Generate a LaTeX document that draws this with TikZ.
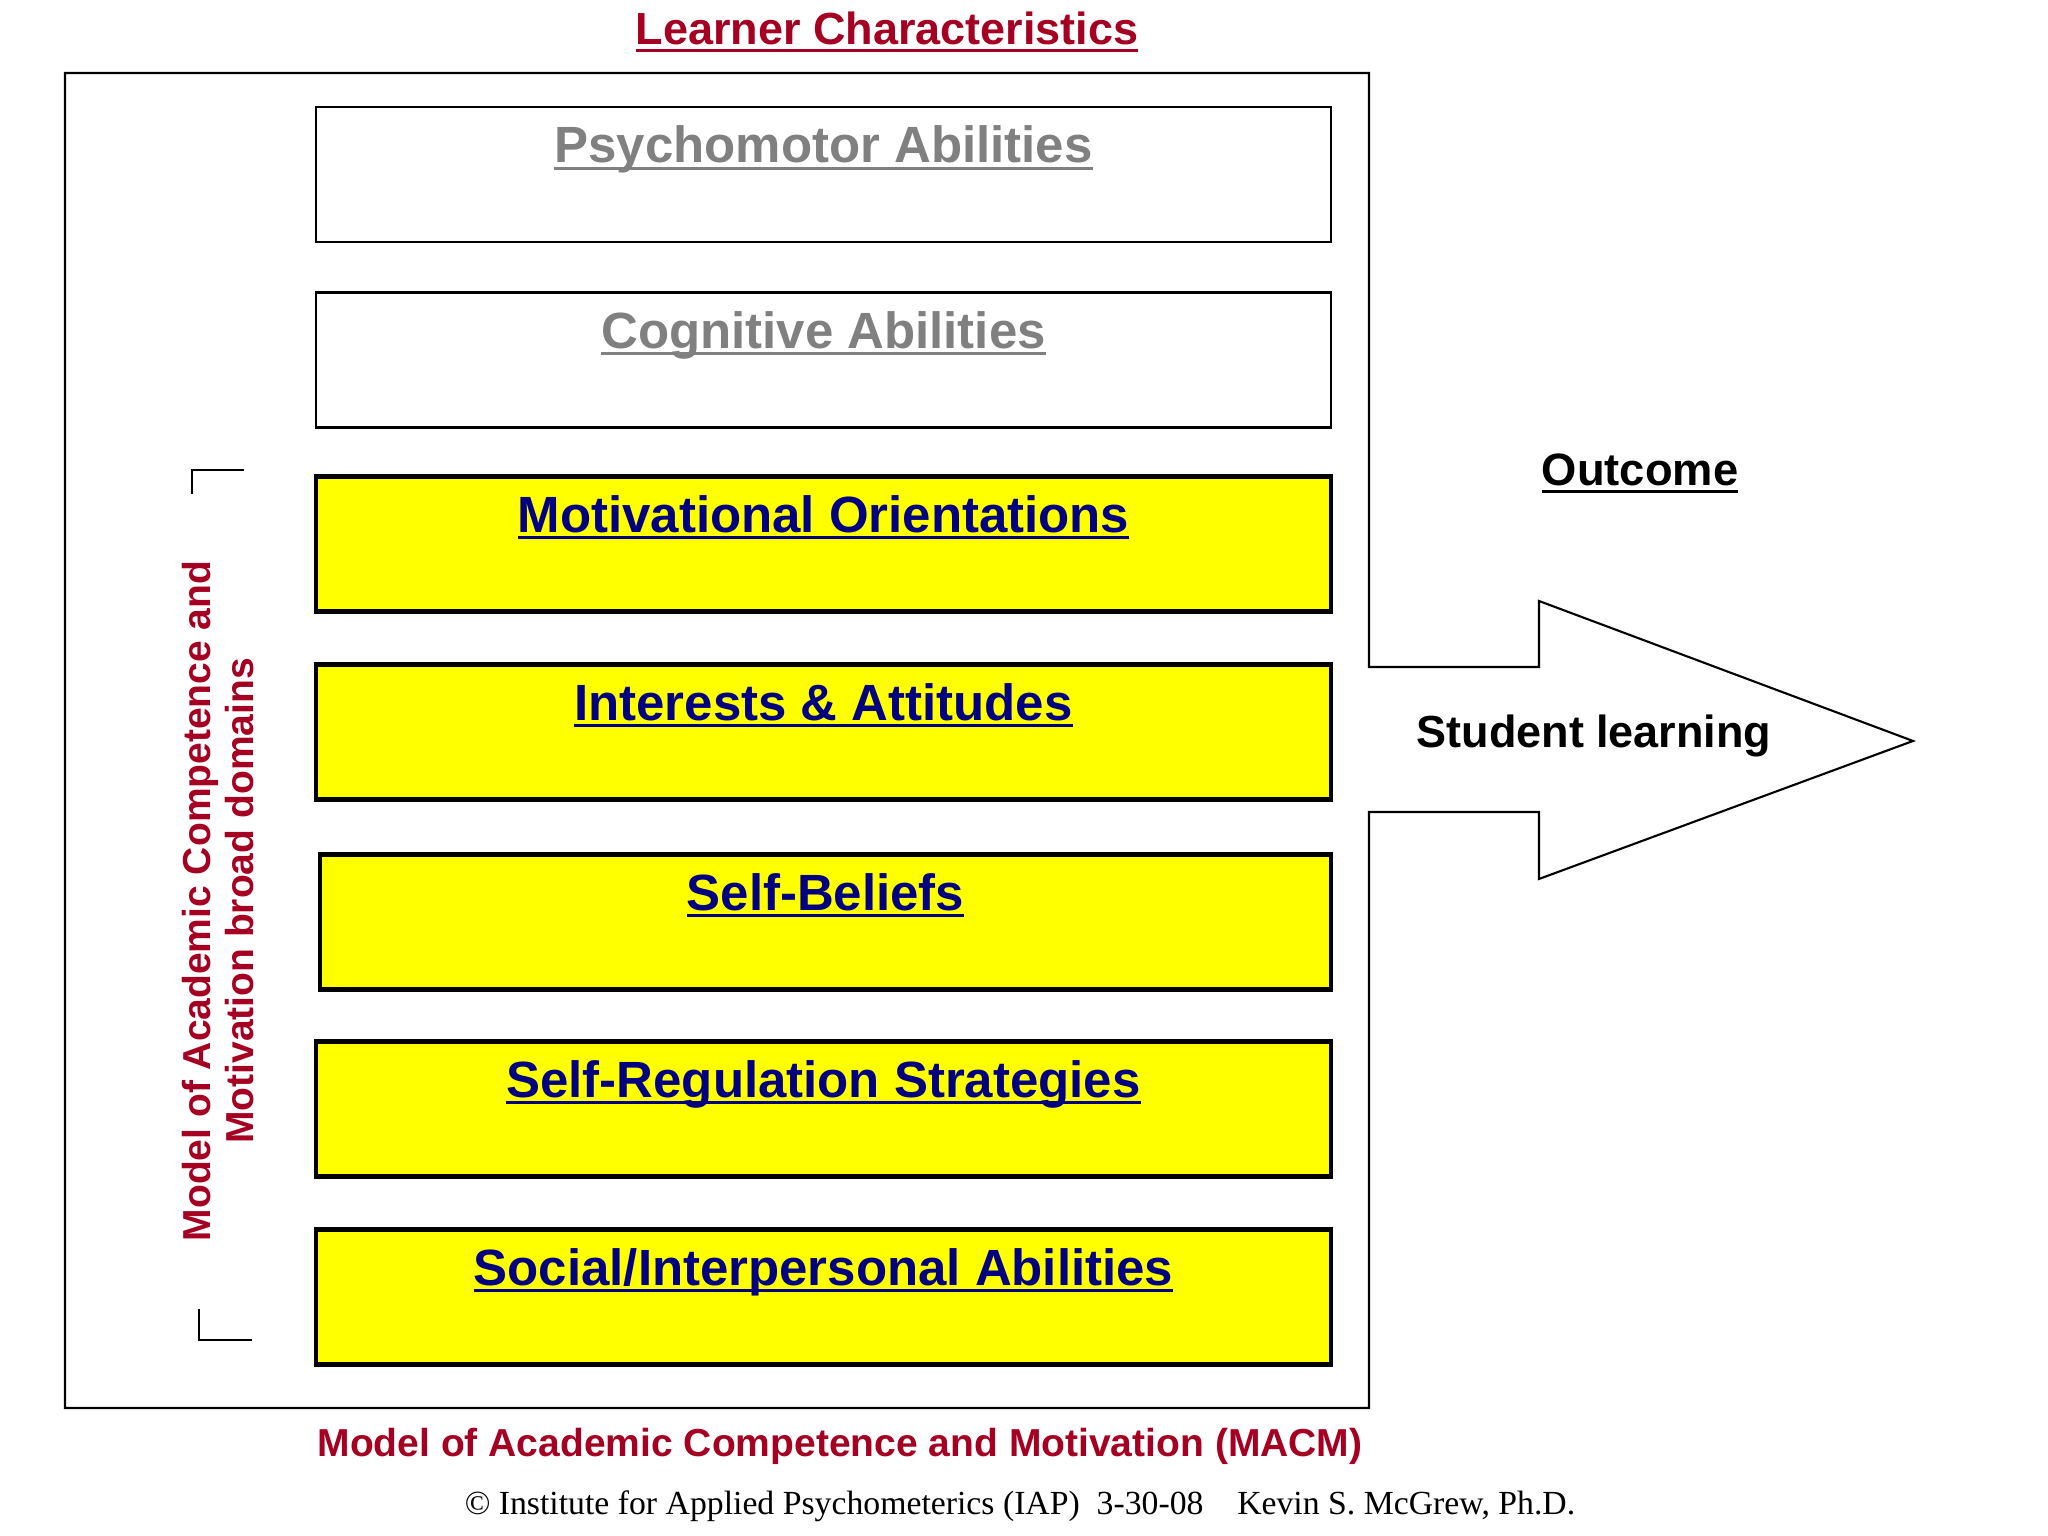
\documentclass[tikz,border=0pt]{standalone}
\usepackage{fontspec}
\setmainfont{Liberation Sans}
\newfontfamily\serifnote{Liberation Serif}

\definecolor{macmred}{HTML}{A50021}
\definecolor{boxnavy}{HTML}{000080}
\definecolor{boxgrey}{HTML}{808080}
\definecolor{boxyellow}{RGB}{255,255,0}

% underline drawn as a rule under the text
\newcommand{\ulin}[1]{\leavevmode\setbox0\hbox{#1}\rlap{\vrule height -1.1pt depth 1.9pt width \wd0}\box0}

\tikzset{
  greybox/.style={draw, line width=0.6pt, minimum width=10.15cm, inner sep=0pt,
    text height=0.56cm, text depth=0.79cm, text=boxgrey,
    font=\fontsize{14.5}{17}\selectfont\bfseries},
  yellowbox/.style={greybox, line width=1.3pt, fill=boxyellow, text=boxnavy},
  redlabel/.style={text=macmred, font=\fontsize{11.1}{12.2}\selectfont\bfseries},
}

\begin{document}
\begin{tikzpicture}
      \useasboundingbox (0,0) rectangle (20.48,15.36);
      \node[anchor=base, text=macmred, font=\fontsize{12.8}{15}\selectfont\bfseries] (title) at (8.87,14.91) {\ulin{Learner Characteristics}};
      % frame with the outcome arrow
      \draw[line width=0.6pt] (13.69,8.69) -- (13.69,14.63) -- (0.65,14.63) -- (0.65,1.28) -- (13.69,1.28) -- (13.69,7.24) -- (15.39,7.24) -- (15.39,6.57) -- (19.13,7.95) -- (15.39,9.35) -- (15.39,8.69) -- cycle;
      \node[greybox] (psycho) at (8.235,13.615) {\ulin{Psychomotor Abilities}};
      \node[greybox] (cognitive) at (8.235,11.76) {\ulin{Cognitive Abilities}};
      \node[yellowbox] (motiv) at (8.235,9.92) {\ulin{Motivational Orientations}};
      \node[yellowbox] (interest) at (8.235,8.04) {\ulin{Interests \& Attitudes}};
      \node[yellowbox, minimum width=10.11cm] (selfbel) at (8.255,6.14) {\ulin{Self-Beliefs}};
      \node[yellowbox] (selfreg) at (8.235,4.27) {\ulin{Self-Regulation Strategies}};
      \node[yellowbox] (social) at (8.235,2.39) {\ulin{Social/Interpersonal Abilities}};
      % bracket for the broad domains
      \draw[line width=0.6pt] (1.92,10.42) -- (1.92,10.66) -- (2.44,10.66);
      \draw[line width=0.6pt] (1.99,2.27) -- (1.99,1.96) -- (2.52,1.96);
      \node[redlabel, rotate=90, align=center] (domains) at (2.18,6.35) {Model of Academic Competence and\\Motivation broad domains};
      \node[anchor=base, font=\fontsize{12.9}{15}\selectfont\bfseries] (outcome) at (16.40,10.50) {\ulin{Outcome}};
      \node[anchor=base, font=\fontsize{12.8}{15}\selectfont\bfseries] (learning) at (15.94,7.88) {Student learning};
      \node[redlabel, anchor=base] (macm) at (8.40,0.79) {Model of Academic Competence and Motivation (MACM)};
      \node[anchor=base, font=\serifnote\fontsize{9.6}{11}\selectfont] (credit) at (10.20,0.21) {© Institute for Applied Psychometerics (IAP)\ \ 3-30-08\ \ \ \ Kevin S. McGrew, Ph.D.};
    \end{tikzpicture}
\end{document}
